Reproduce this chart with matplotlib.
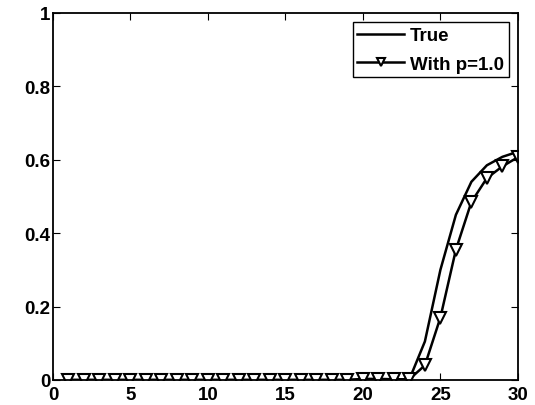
import matplotlib
matplotlib.use('Agg')
import matplotlib.pyplot as plt
import numpy as np

plt.rcParams['font.family'] = ['Liberation Sans', 'DejaVu Sans']
plt.rcParams['font.weight'] = 'bold'

x = np.arange(1, 31)
true_vals = [0, 0, 0, 0, 0, 0, 0, 0, 0, 0,
             0, 0, 0, 0, 0, 0, 0, 0, 0, 0.001,
             0.001, 0.001, 0.002, 0.105, 0.30, 0.45, 0.54, 0.585, 0.608, 0.622]
p10_vals = [0, 0, 0, 0, 0, 0, 0, 0, 0, 0,
            0, 0, 0, 0, 0, 0, 0, 0, 0, 0.003,
            0.003, 0.002, 0.002, 0.04, 0.17, 0.355, 0.485, 0.55, 0.582, 0.607]
labels = ['True', 'With p=1.0']

fig = plt.figure(figsize=(5.35, 4.06), dpi=100)
ax = fig.add_axes([0.099, 0.0616, 0.869, 0.904])

ax.plot(x, true_vals, color='black', linewidth=1.8, label=labels[0])
ax.plot(x, p10_vals, color='black', linewidth=1.8, marker='v',
        markersize=8, markerfacecolor='white', markeredgewidth=1.5,
        label=labels[1])

ax.set_xlim(0, 30)
ax.set_ylim(0, 1)
ax.set_xticks(np.arange(0, 31, 5))
ax.set_yticks([0, 0.2, 0.4, 0.6, 0.8, 1])
ax.set_yticklabels(['0', '0.2', '0.4', '0.6', '0.8', '1'])
ax.tick_params(direction='in', length=5, width=0.8, top=True, right=True,
               labelsize=13.5)
ax.tick_params(axis='y', pad=2)
ax.tick_params(axis='x', pad=4)
for s in ax.spines.values():
    s.set_linewidth(1.3)

leg = ax.legend(loc='upper right', fontsize=13.5, fancybox=False,
                edgecolor='black', framealpha=1, handlelength=2.5,
                borderaxespad=0.5, borderpad=0.25, labelspacing=0.6,
                handletextpad=0.3, markerscale=0.75)
leg.get_frame().set_linewidth(1.0)
for t in leg.get_texts():
    t.set_fontweight('bold')

fig.savefig('out.png', dpi=100)
